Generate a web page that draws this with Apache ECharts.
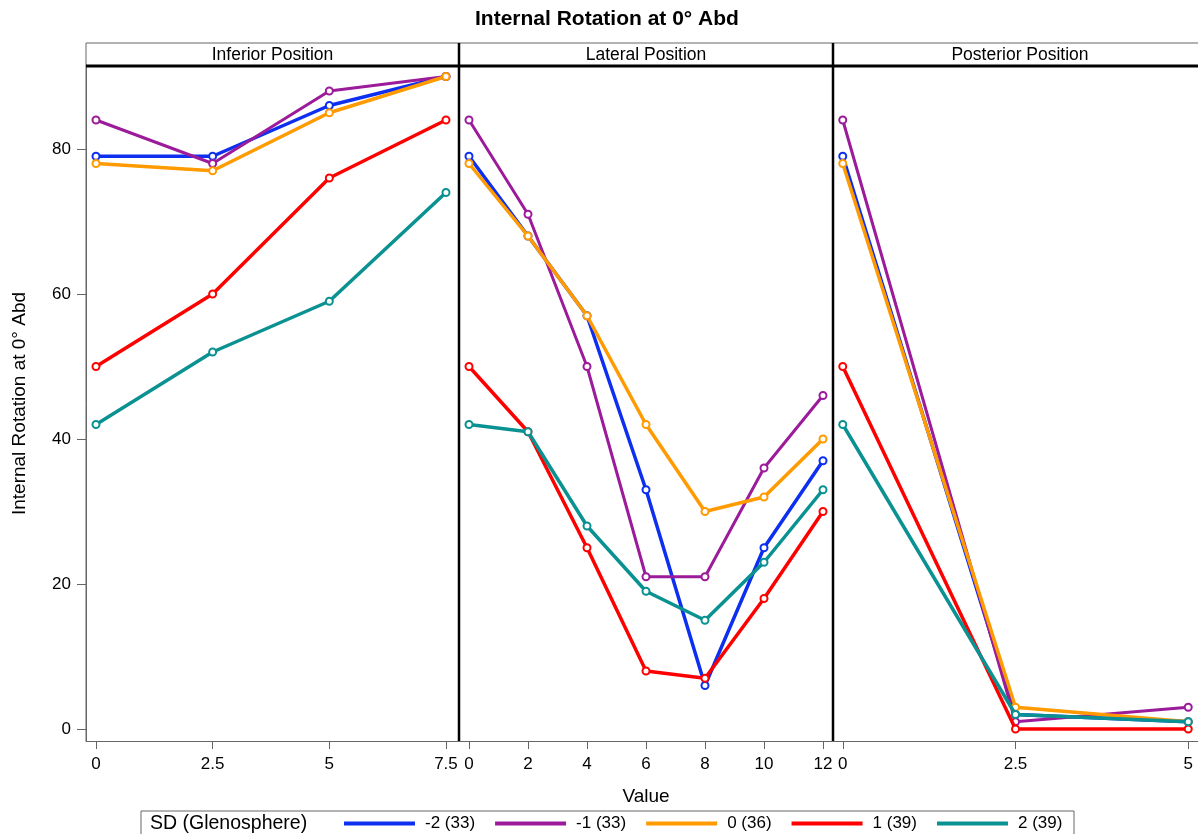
<!DOCTYPE html>
<html>
<head>
<meta charset="utf-8">
<title>Internal Rotation at 0° Abd</title>
<script src="https://cdn.jsdelivr.net/npm/echarts@6/dist/echarts.min.js"></script>
<style>
  html, body { margin: 0; padding: 0; background: #fff; }
  #chart { width: 1198px; height: 834px; }
</style>
</head>
<body>
<div id="chart"></div>
<script>
// 三个位置面板，每组 SD 一条线
const panelNames = ["Inferior Position", "Lateral Position", "Posterior Position"];
const groupNames = ["-2 (33)", "-1 (33)", "0 (36)", "1 (39)", "2 (39)"];
const groupColors = ["#0d2ff0", "#9b1b9b", "#ff9a00", "#ff0000", "#0a9191"];
const groupWidths = [3.5, 3, 3.5, 3.5, 3.5];

const inferiorX = [0, 2.5, 5, 7.5];
const lateralX = [0, 2, 4, 6, 8, 10, 12];
const posteriorX = [0, 2.5, 5];

// 行顺序同 groupNames
const inferiorY = [
  [79, 79, 86, 90],
  [84, 78, 88, 90],
  [78, 77, 85, 90],
  [50, 60, 76, 84],
  [42, 52, 59, 74],
];
const lateralY = [
  [79, 68, 57, 33, 6, 25, 37],
  [84, 71, 50, 21, 21, 36, 46],
  [78, 68, 57, 42, 30, 32, 40],
  [50, 41, 25, 8, 7, 18, 30],
  [42, 41, 28, 19, 15, 23, 33],
];
const posteriorY = [
  [79, 2, 1],
  [84, 1, 3],
  [78, 3, 1],
  [50, 0, 0],
  [42, 2, 1],
];

const yTicks = [0, 20, 40, 60, 80];
const xTicks = [
  [0, 2.5, 5, 7.5],
  [0, 2, 4, 6, 8, 10, 12],
  [0, 2.5, 5],
];

const FONT = "'Liberation Sans', Arial, sans-serif";
const panelX = [inferiorX, lateralX, posteriorX];
const panelY = [inferiorY, lateralY, posteriorY];
const gridLefts = [86, 459, 833];
const gridWidths = [373, 374, 374];
const xRanges = [[-0.214, 7.779], [-0.339, 12.339], [-0.1412, 5.1412]];

const grids = gridLefts.map((l, i) => ({
  left: l, top: 66, width: gridWidths[i], height: 675
}));

const xAxes = xRanges.map((r, i) => ({
  type: "value",
  gridIndex: i,
  min: r[0],
  max: r[1],
  splitLine: { show: false },
  axisLine: { show: true, onZero: false, lineStyle: { color: "#666", width: 1 } },
  axisTick: { show: true, length: 8, customValues: xTicks[i], lineStyle: { color: "#666" } },
  axisLabel: { customValues: xTicks[i], margin: 15, fontSize: 17, color: "#000", fontFamily: FONT },
}));

const yAxes = [0, 1, 2].map((i) => ({
  type: "value",
  gridIndex: i,
  min: -1.655,
  max: 91.45,
  splitLine: { show: false },
  axisLine: { show: i === 0, onZero: false, lineStyle: { color: "#666", width: 1 } },
  axisTick: { show: i === 0, length: 9, customValues: yTicks, lineStyle: { color: "#666" } },
  axisLabel: { show: i === 0, customValues: yTicks, margin: 15, fontSize: 17, color: "#000", fontFamily: FONT },
  name: i === 0 ? "Internal Rotation at 0° Abd" : "",
  nameLocation: "middle",
  nameGap: 57,
  nameTextStyle: { fontSize: 19, color: "#000", fontFamily: FONT },
}));

const series = [];
panelX.forEach((xs, p) => {
  groupNames.forEach((g, k) => {
    series.push({
      name: g,
      type: "line",
      xAxisIndex: p,
      yAxisIndex: p,
      data: xs.map((x, j) => [x, panelY[p][k][j]]),
      symbol: "emptyCircle",
      symbolSize: 7,
      color: groupColors[k],
      lineStyle: { color: groupColors[k], width: groupWidths[k] },
      itemStyle: { color: groupColors[k], borderWidth: 1.5 },
      z: 2 + k,
      animation: false,
    });
  });
});

const frameLine = (x1, y1, x2, y2, color, w) => ({
  type: "line",
  shape: { x1, y1, x2, y2 },
  style: { stroke: color, lineWidth: w },
  z: 100,
});

const graphics = [
  frameLine(86, 43, 1198, 43, "#666", 1),
  frameLine(86, 43, 86, 741, "#666", 1),
  frameLine(86, 66, 1198, 66, "#000", 3),
  frameLine(459, 43, 459, 741, "#000", 2.5),
  frameLine(833, 43, 833, 741, "#000", 2.5),
  {
    type: "rect",
    shape: { x: 141, y: 811, width: 933, height: 40 },
    style: { fill: "none", stroke: "#666", lineWidth: 1 },
    z: 100,
  },
  {
    type: "text",
    x: 150, y: 824,
    style: { text: "SD (Glenosphere)", fill: "#000", font: "19.5px " + FONT, verticalAlign: "middle" },
    z: 100,
  },
  {
    type: "text",
    x: 646, y: 797,
    style: { text: "Value", fill: "#000", font: "19px " + FONT, align: "center", verticalAlign: "middle" },
    z: 100,
  },
];
panelNames.forEach((n, i) => {
  graphics.push({
    type: "text",
    x: gridLefts[i] + gridWidths[i] / 2,
    y: 55,
    style: { text: n, fill: "#000", font: "17.5px " + FONT, align: "center", verticalAlign: "middle" },
    z: 100,
  });
});

const option = {
  backgroundColor: "#fff",
  animation: false,
  title: {
    text: "Internal Rotation at 0° Abd",
    left: 475,
    top: 9,
    padding: 0,
    textStyle: { fontSize: 21, fontWeight: "bold", color: "#000", fontFamily: FONT },
  },
  legend: {
    data: groupNames.map((g) => ({ name: g, icon: "rect" })),
    left: 344,
    top: 815,
    padding: 0,
    itemWidth: 71,
    itemHeight: 4,
    itemGap: 20,
    textStyle: { fontSize: 17, color: "#000", fontFamily: FONT, padding: [0, 0, 0, 5] },
  },
  grid: grids,
  xAxis: xAxes,
  yAxis: yAxes,
  series: series,
  graphic: graphics,
};

const chart = echarts.init(document.getElementById("chart"));
chart.setOption(option);
</script>
</body>
</html>
